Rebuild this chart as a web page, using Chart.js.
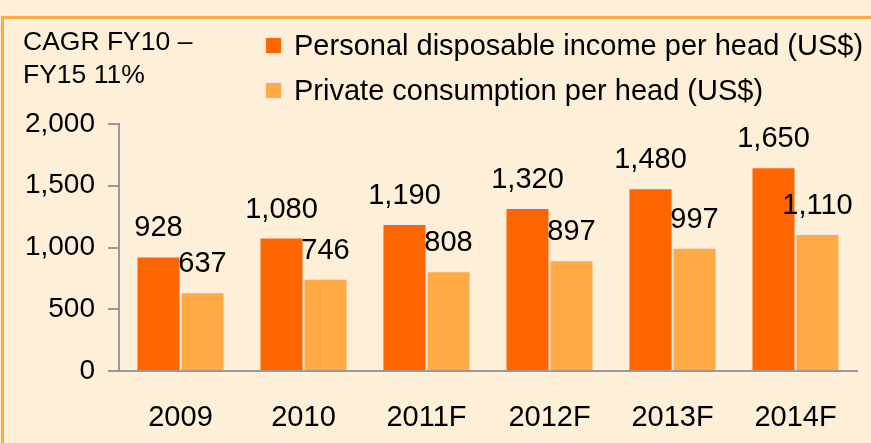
<!DOCTYPE html>
<html>
<head>
<meta charset="utf-8">
<script src="https://cdn.jsdelivr.net/npm/chart.js@4.4.1/dist/chart.umd.min.js"></script>
<style>
    html, body { margin: 0; padding: 0; background: #FEF0D8; }
    body { width: 871px; height: 443px; position: relative; overflow: hidden; font-family: "Liberation Sans", Arial, sans-serif; }
    .frame { position: absolute; left: 1px; top: 16px; width: 2000px; height: 1000px; border-top: 3px solid #FFAA44; border-left: 3px solid #FFAA44; }
    #chart-wrap { position: absolute; left: 0; top: 0; width: 871px; height: 443px; }
    .note { position: absolute; left: 23px; top: 25px; font-size: 26.5px; line-height: 33px; color: #000; }
    .legend { position: absolute; left: 265px; top: 27px; font-size: 29px; color: #000; }
    .legend-row { position: relative; height: 45px; line-height: 37px; padding-left: 29px; white-space: nowrap; }
    .legend-row .box { position: absolute; left: 0; top: 10px; width: 15px; height: 15px; border: 1px solid #E4ECF2; }
</style>
</head>
<body>
<div class="frame"></div>
<div id="chart-wrap"><canvas id="cagr-chart"></canvas></div>
<div class="note">CAGR FY10 –<br>FY15 11%</div>
<div class="legend" id="legend"></div>
<script>
// datos del gráfico
const years = ['2009', '2010', '2011F', '2012F', '2013F', '2014F'];
const incomePerHead = [928, 1080, 1190, 1320, 1480, 1650];
const consumptionPerHead = [637, 746, 808, 897, 997, 1110];
const seriesNames = ['Personal disposable income per head (US$)', 'Private consumption per head (US$)'];
const seriesColors = ['#FF6600', '#FFAA44'];
const yTicks = [0, 500, 1000, 1500, 2000];

const FONT = '"Liberation Sans", Arial, sans-serif';

// leyenda en HTML
const legend = document.getElementById('legend');
seriesNames.forEach((name, i) => {
    const row = document.createElement('div');
    row.className = 'legend-row';
    row.innerHTML = `<span class="box" style="background:${seriesColors[i]}"></span>${name}`;
    legend.appendChild(row);
});

// etiquetas de valor encima de cada barra
const valueLabels = {
    id: 'valueLabels',
    afterDatasetsDraw(chart) {
        const ctx = chart.ctx;
        ctx.save();
        ctx.font = `29px ${FONT}`;
        ctx.fillStyle = '#000';
        ctx.textAlign = 'center';
        ctx.textBaseline = 'alphabetic';
        chart.data.datasets.forEach((ds, i) => {
            chart.getDatasetMeta(i).data.forEach((bar, j) => {
                ctx.fillText(ds.data[j].toLocaleString('en-US'), bar.x, bar.y - 20);
            });
        });
        ctx.restore();
    }
};

new Chart(document.getElementById('cagr-chart').getContext('2d'), {
    type: 'bar',
    data: {
        labels: years,
        datasets: [
            { label: seriesNames[0], data: incomePerHead, backgroundColor: seriesColors[0] },
            { label: seriesNames[1], data: consumptionPerHead, backgroundColor: seriesColors[1] }
        ]
    },
    options: {
        responsive: true,
        maintainAspectRatio: false,
        animation: false,
        layout: { padding: { top: 124, right: 14, left: 0, bottom: 0 } },
        datasets: {
            bar: {
                barPercentage: 1,
                categoryPercentage: 0.716,
                borderWidth: 1,
                borderColor: '#EAEFF3'
            }
        },
        plugins: {
            legend: { display: false },
            tooltip: { enabled: false }
        },
        scales: {
            x: {
                grid: { display: false, drawTicks: false },
                border: { display: true, color: '#999999', width: 2 },
                ticks: {
                    color: '#000',
                    font: { family: FONT, size: 29 },
                    padding: 30,
                    maxRotation: 0
                },
                afterFit(scale) { scale.height = 72; }
            },
            y: {
                min: 0,
                max: 2000,
                afterBuildTicks(scale) { scale.ticks = yTicks.map(v => ({ value: v })); },
                grid: {
                    drawOnChartArea: false,
                    drawTicks: true,
                    tickLength: 11,
                    color: '#999999',
                    lineWidth: 2
                },
                border: { display: true, color: '#999999', width: 2 },
                ticks: {
                    color: '#000',
                    font: { family: FONT, size: 28 },
                    padding: 13,
                    callback: v => v.toLocaleString('en-US')
                },
                afterFit(scale) { scale.width = 119; }
            }
        }
    },
    plugins: [valueLabels]
});
</script>
</body>
</html>
